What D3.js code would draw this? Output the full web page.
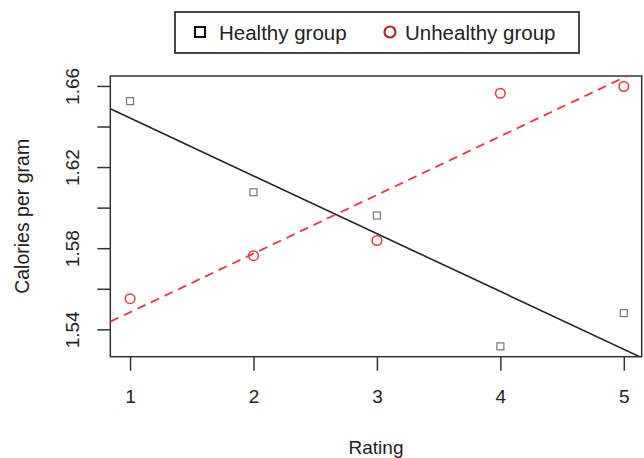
<!DOCTYPE html>
<html>
<head>
<meta charset="utf-8">
<script src="https://cdn.jsdelivr.net/npm/d3@7/dist/d3.min.js"></script>
<style>
html,body{margin:0;padding:0;background:#fff;}
text{font-family:"Liberation Sans",Arial,Helvetica,sans-serif;}
</style>
</head>
<body>
<svg id="chart" width="644" height="458"></svg>
<script>
// ---- data ----
const ratings = [1, 2, 3, 4, 5];
const healthy = [1.6525, 1.6076, 1.5961, 1.5316, 1.5480];
const unhealthy = [1.5551, 1.5763, 1.5838, 1.6564, 1.6597];
const seriesNames = ["Healthy group", "Unhealthy group"];
const xTicks = [1, 2, 3, 4, 5];
const yTicksLabeled = [1.54, 1.58, 1.62, 1.66];
const yTicksAll = [1.54, 1.56, 1.58, 1.60, 1.62, 1.64, 1.66];
const xLabel = "Rating";
const yLabel = "Calories per gram";

// ---- layout ----
const svg = d3.select("#chart");
const L = 110.3, R = 641.7, T = 76, B = 356.7;
const x = d3.scaleLinear().domain([0.84, 5.145]).range([L, R]);
const y = d3.scaleLinear().domain([1.5265, 1.6649]).range([B, T]);
const fs = 19;

function fit(xs, ys) {
  const mx = d3.mean(xs), my = d3.mean(ys);
  let sxy = 0, sxx = 0;
  xs.forEach((v, i) => { sxy += (v - mx) * (ys[i] - my); sxx += (v - mx) * (v - mx); });
  const b = sxy / sxx;
  return { a: my - b * mx, b: b };
}

svg.append("defs").append("clipPath").attr("id", "pc")
  .append("rect").attr("x", L).attr("y", T).attr("width", R - L).attr("height", B - T);

// axes
const xAxis = d3.axisBottom(x).tickValues(xTicks).tickSize(14).tickPadding(21).tickFormat(d3.format("d"));
const gx = svg.append("g").attr("transform", `translate(0,${B})`).call(xAxis);
gx.select(".domain").remove();
gx.selectAll("line").attr("stroke", "#333").attr("stroke-width", 1.5);
gx.selectAll("text").attr("font-size", fs).attr("fill", "#222").attr("dy", "0.6em");

const yAxis = d3.axisLeft(y).tickValues(yTicksAll).tickSize(13).tickPadding(10)
  .tickFormat(d => yTicksLabeled.some(v => Math.abs(v - d) < 1e-9) ? d3.format(".2f")(d) : "");
const gy = svg.append("g").attr("transform", `translate(${L},0)`).call(yAxis);
gy.select(".domain").remove();
gy.selectAll("line").attr("stroke", "#333").attr("stroke-width", 1.5);
gy.selectAll("text").attr("font-size", fs).attr("fill", "#222")
  .attr("text-anchor", "middle").attr("dy", null).attr("x", null)
  .attr("transform", "translate(-38,0) rotate(-90)").attr("dominant-baseline", "central");

// box
svg.append("rect").attr("x", L).attr("y", T).attr("width", R - L).attr("height", B - T)
  .attr("fill", "none").attr("stroke", "#333").attr("stroke-width", 1.5);

// axis titles
svg.append("text").attr("x", (L + R) / 2).attr("y", 454).attr("text-anchor", "middle")
  .attr("font-size", fs).attr("fill", "#222").text(xLabel);
svg.append("text").attr("transform", `translate(29,${(T + B) / 2}) rotate(-90)`)
  .attr("text-anchor", "middle").attr("font-size", 19.5).attr("fill", "#222").text(yLabel);

// regression lines
const plot = svg.append("g").attr("clip-path", "url(#pc)");
const [x0, x1] = x.domain();
const fh = fit(ratings, healthy), fu = fit(ratings, unhealthy);
plot.append("line").attr("x1", x(x0)).attr("y1", y(fh.a + fh.b * x0))
  .attr("x2", x(x1)).attr("y2", y(fh.a + fh.b * x1))
  .attr("stroke", "#222").attr("stroke-width", 1.6);
plot.append("line").attr("x1", x(x0)).attr("y1", y(fu.a + fu.b * x0))
  .attr("x2", x(x1)).attr("y2", y(fu.a + fu.b * x1))
  .attr("stroke", "#e8383d").attr("stroke-width", 1.8).attr("stroke-dasharray", "9,6");

// points
const s = 7;
svg.selectAll("rect.hp").data(ratings).enter().append("rect").attr("class", "hp")
  .attr("x", (d) => x(d) - s / 2).attr("y", (d, i) => y(healthy[i]) - s / 2)
  .attr("width", s).attr("height", s).attr("fill", "none").attr("stroke", "#777").attr("stroke-width", 1.2);
svg.selectAll("circle.up").data(ratings).enter().append("circle").attr("class", "up")
  .attr("cx", (d) => x(d)).attr("cy", (d, i) => y(unhealthy[i])).attr("r", 4.8)
  .attr("fill", "none").attr("stroke", "#e23b3b").attr("stroke-width", 1.5);

// legend
const lg = svg.append("g");
lg.append("rect").attr("x", 175).attr("y", 12).attr("width", 404).attr("height", 41)
  .attr("fill", "#fff").attr("stroke", "#333").attr("stroke-width", 1.8);
lg.append("rect").attr("x", 195).attr("y", 27).attr("width", 10).attr("height", 10)
  .attr("fill", "none").attr("stroke", "#111").attr("stroke-width", 2);
lg.append("text").attr("x", 219).attr("y", 39.5).attr("font-size", 20.5).attr("fill", "#222").text(seriesNames[0]);
lg.append("circle").attr("cx", 390).attr("cy", 32).attr("r", 5.5)
  .attr("fill", "none").attr("stroke", "#b8282a").attr("stroke-width", 2.2);
lg.append("text").attr("x", 405).attr("y", 39.5).attr("font-size", 20.5).attr("fill", "#222").text(seriesNames[1]);
</script>
</body>
</html>
